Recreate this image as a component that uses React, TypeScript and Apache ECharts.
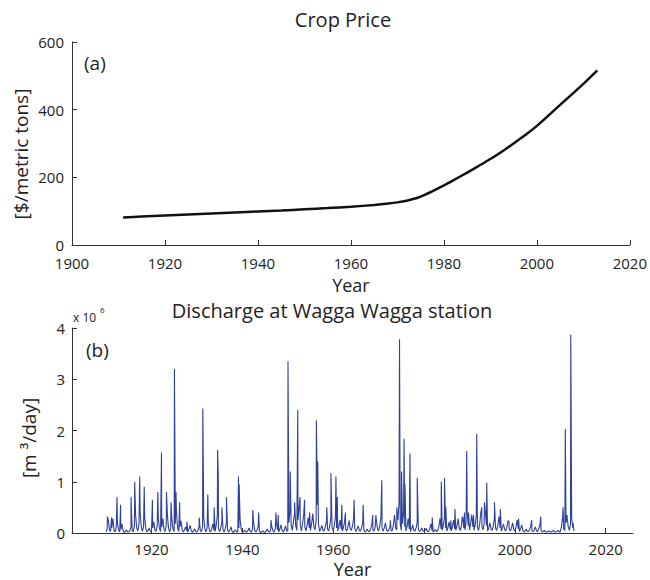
import React, { useEffect, useRef } from "react";
import * as echarts from "echarts";

// ---- Crop price (panel a) ----
const priceYears = [1911, 1915, 1920, 1925, 1930, 1935, 1940, 1945, 1950, 1955, 1960, 1965, 1968, 1970, 1972, 1974, 1976, 1978, 1980, 1982, 1985, 1988, 1990, 1993, 1995, 1998, 2000, 2003, 2005, 2008, 2010, 2013];
const priceValues = [81, 84, 87, 90, 93, 96, 99, 102, 105.5, 109, 113, 118.5, 122.5, 126, 131, 138, 149, 162, 176, 191, 214, 238, 254, 281, 300, 330, 352, 389, 414, 451, 476, 516];

// ---- Discharge (panel b), in 10^6 m3/day ----
// baseline flow, four readings per year starting 1910.0
const baseStartYear = 1910;
const baseStep = 0.25;
const baseFlow = [
  0.02, 0.08, 0.25, 0.06, 0.03, 0.10, 0.28, 0.05, 0.02, 0.12, 0.20, 0.06, 0.02, 0.07, 0.18, 0.04,
  0.01, 0.03, 0.06, 0.02, 0.02, 0.05, 0.12, 0.04, 0.03, 0.15, 0.35, 0.10, 0.04, 0.18, 0.40, 0.12,
  0.03, 0.12, 0.30, 0.08, 0.02, 0.05, 0.10, 0.03, 0.02, 0.10, 0.22, 0.06, 0.03, 0.14, 0.30, 0.08,
  0.03, 0.12, 0.28, 0.07, 0.03, 0.15, 0.35, 0.09, 0.02, 0.10, 0.25, 0.06, 0.03, 0.18, 0.40, 0.10,
  0.03, 0.12, 0.24, 0.06, 0.02, 0.06, 0.12, 0.04, 0.02, 0.08, 0.15, 0.05, 0.01, 0.04, 0.08, 0.03,
  0.02, 0.06, 0.14, 0.04, 0.03, 0.12, 0.30, 0.08, 0.02, 0.10, 0.20, 0.05, 0.02, 0.08, 0.18, 0.05,
  0.03, 0.15, 0.35, 0.09, 0.03, 0.10, 0.22, 0.06, 0.02, 0.09, 0.20, 0.05, 0.02, 0.06, 0.12, 0.03,
  0.01, 0.03, 0.06, 0.02, 0.02, 0.10, 0.28, 0.07, 0.01, 0.03, 0.05, 0.02, 0.02, 0.05, 0.10, 0.03,
  0.02, 0.08, 0.18, 0.05, 0.02, 0.06, 0.14, 0.04, 0.01, 0.02, 0.04, 0.02, 0.01, 0.04, 0.08, 0.03,
  0.02, 0.06, 0.12, 0.04, 0.02, 0.08, 0.20, 0.06, 0.02, 0.07, 0.16, 0.05, 0.02, 0.06, 0.14, 0.04,
  0.04, 0.20, 0.45, 0.15, 0.05, 0.22, 0.40, 0.14, 0.05, 0.25, 0.50, 0.16, 0.04, 0.18, 0.35, 0.12,
  0.04, 0.15, 0.30, 0.10, 0.05, 0.18, 0.38, 0.12, 0.06, 0.25, 0.55, 0.18, 0.03, 0.08, 0.15, 0.05,
  0.04, 0.12, 0.22, 0.08, 0.04, 0.15, 0.30, 0.10, 0.05, 0.15, 0.32, 0.10, 0.04, 0.12, 0.25, 0.08,
  0.04, 0.10, 0.22, 0.07, 0.04, 0.12, 0.24, 0.08, 0.05, 0.14, 0.28, 0.09, 0.03, 0.08, 0.14, 0.05,
  0.04, 0.10, 0.20, 0.06, 0.02, 0.04, 0.08, 0.03, 0.03, 0.08, 0.16, 0.05, 0.04, 0.12, 0.25, 0.08,
  0.04, 0.14, 0.30, 0.09, 0.04, 0.10, 0.20, 0.06, 0.03, 0.06, 0.12, 0.04, 0.05, 0.15, 0.35, 0.10,
  0.06, 0.25, 0.60, 0.18, 0.05, 0.18, 0.40, 0.12, 0.04, 0.12, 0.28, 0.08, 0.03, 0.08, 0.16, 0.05,
  0.04, 0.10, 0.22, 0.07, 0.03, 0.06, 0.10, 0.04, 0.03, 0.05, 0.09, 0.03, 0.03, 0.08, 0.18, 0.05,
  0.02, 0.04, 0.07, 0.03, 0.04, 0.12, 0.28, 0.08, 0.05, 0.15, 0.30, 0.10, 0.04, 0.10, 0.22, 0.07,
  0.04, 0.12, 0.25, 0.08, 0.05, 0.14, 0.28, 0.09, 0.05, 0.16, 0.32, 0.10, 0.06, 0.20, 0.40, 0.14,
  0.06, 0.18, 0.36, 0.12, 0.05, 0.16, 0.33, 0.11, 0.05, 0.18, 0.40, 0.12, 0.06, 0.20, 0.42, 0.14,
  0.04, 0.10, 0.20, 0.07, 0.05, 0.14, 0.30, 0.09, 0.05, 0.15, 0.32, 0.10, 0.04, 0.10, 0.18, 0.06,
  0.04, 0.12, 0.24, 0.08, 0.04, 0.10, 0.20, 0.07, 0.04, 0.12, 0.25, 0.08, 0.03, 0.08, 0.16, 0.05,
  0.02, 0.04, 0.08, 0.03, 0.03, 0.07, 0.14, 0.04, 0.03, 0.06, 0.12, 0.04, 0.03, 0.08, 0.15, 0.05,
  0.02, 0.03, 0.05, 0.02, 0.02, 0.03, 0.04, 0.02, 0.02, 0.03, 0.05, 0.02, 0.02, 0.03, 0.05, 0.02,
  0.03, 0.12, 0.30, 0.08, 0.05, 0.20, 0.35, 0.12, 0.05, 0.18, 0.30, 0.10, 0.04,
];
// flood peaks
const peakYears = [
  1910.3, 1911.2, 1912.4, 1913.2, 1915.5, 1916.3, 1917.4, 1918.4, 1920.2, 1921.4, 1922.2, 1923.3, 1924.3,
  1925.05, 1925.4, 1926.2, 1927.8, 1930.5, 1931.3, 1932.4, 1933.8, 1934.55, 1934.7, 1935.5, 1936.5,
  1939.15, 1939.3, 1942.3, 1943.6, 1946.3, 1947.4, 1947.9, 1950.05, 1950.55, 1951.5, 1952.2, 1952.7,
  1953.7, 1954.8, 1956.3, 1956.6, 1958.6, 1959.5, 1960.6, 1960.9, 1961.9, 1962.7, 1964.6, 1966.6,
  1968.7, 1969.4, 1970.7, 1972.6, 1974.0, 1974.6, 1975.05, 1975.6, 1975.8, 1976.9, 1978.5, 1981.8,
  1983.8, 1984.5, 1984.8, 1985.9, 1986.8, 1988.4, 1988.9, 1989.4, 1989.8, 1990.9, 1991.6, 1992.7,
  1993.3, 1993.8, 1995.5, 1996.8, 1998.7, 2000.8, 2003.7, 2005.7, 2010.6, 2011.1, 2011.5, 2012.3, 2012.8,
];
const peakValues = [
  0.32, 0.3, 0.7, 0.55, 0.7, 1.0, 1.1, 0.9, 0.65, 0.8, 1.57, 0.8, 0.6,
  3.2, 0.8, 0.6, 0.22, 0.3, 2.43, 0.75, 0.5, 1.62, 1.15, 0.5, 0.7,
  1.1, 0.95, 0.45, 0.4, 0.25, 0.4, 0.35, 3.35, 1.2, 0.6, 2.4, 0.7,
  0.65, 0.4, 2.2, 1.4, 0.5, 1.17, 1.1, 0.7, 0.55, 0.4, 0.65, 0.55,
  0.35, 0.35, 1.03, 0.25, 0.5, 3.78, 1.2, 1.84, 0.95, 1.55, 1.08, 0.3,
  1.0, 1.08, 0.5, 0.25, 0.47, 0.3, 0.4, 1.6, 0.4, 0.35, 1.93, 0.5,
  0.6, 0.98, 0.6, 0.47, 0.22, 0.28, 0.25, 0.32, 0.5, 2.03, 0.3, 3.87, 0.2,
];

const bottomYearTicks = [1920, 1940, 1960, 1980, 2000, 2020];

const FONT = "'Open Sans', 'Noto Sans', sans-serif";
const TEXT = "#222";
const AXIS = "#333";

export default function App() {
  const ref = useRef<HTMLDivElement>(null);

  useEffect(() => {
    if (!ref.current) return;
    const chart = echarts.init(ref.current, undefined, { renderer: "svg" });

    const pricePoints = priceYears.map((y, i) => [y, priceValues[i]]);
    const flowPoints: number[][] = baseFlow.map((v, i) => [baseStartYear + i * baseStep, v]);
    peakYears.forEach((y, i) => flowPoints.push([y, peakValues[i]]));
    flowPoints.sort((a, b) => a[0] - b[0]);

    const plain = (v: number) => String(v);

    const axisCommon = {
      axisLine: { show: true, lineStyle: { color: AXIS, width: 1 } },
      axisTick: { show: true, inside: true, length: 5, lineStyle: { color: AXIS } },
      splitLine: { show: false },
      axisLabel: { color: TEXT, fontSize: 15, fontFamily: FONT, formatter: plain },
      nameTextStyle: { color: TEXT, fontSize: 18, fontFamily: FONT, lineHeight: 18 },
    };

    chart.setOption({
      animation: false,
      backgroundColor: "#fff",
      grid: [
        { left: 72, right: 17, top: 42, height: 203 },
        { left: 72, right: 17, top: 328, height: 205 },
      ],
      xAxis: [
        {
          ...axisCommon,
          type: "value",
          gridIndex: 0,
          min: 1900,
          max: 2020,
          interval: 20,
          axisLabel: { ...axisCommon.axisLabel, margin: 10, lineHeight: 15 },
          name: "Year",
          nameLocation: "middle",
          nameGap: 31,
        },
        {
          ...axisCommon,
          type: "value",
          gridIndex: 1,
          min: 1902.5,
          max: 2026,
          axisTick: { ...axisCommon.axisTick, customValues: bottomYearTicks },
          axisLabel: { ...axisCommon.axisLabel, margin: 8, lineHeight: 15, customValues: bottomYearTicks },
          name: "Year",
          nameLocation: "middle",
          nameGap: 27,
        },
      ],
      yAxis: [
        {
          ...axisCommon,
          type: "value",
          gridIndex: 0,
          min: 0,
          max: 600,
          interval: 200,
          axisLabel: { ...axisCommon.axisLabel, margin: 8, lineHeight: 13 },
        },
        {
          ...axisCommon,
          type: "value",
          gridIndex: 1,
          min: 0,
          max: 4,
          interval: 1,
          axisLabel: { ...axisCommon.axisLabel, margin: 7, lineHeight: 13 },
        },
      ],
      graphic: [
        { type: "text", x: 343, y: 9, style: { text: "Crop Price", fontSize: 20, fontFamily: FONT, fill: TEXT, textAlign: "center", textVerticalAlign: "top" } },
        { type: "text", x: 332, y: 300, style: { text: "Discharge at Wagga Wagga station", fontSize: 20, fontFamily: FONT, fill: TEXT, textAlign: "center", textVerticalAlign: "top", lineHeight: 20 } },
        { type: "text", x: 84, y: 63, style: { text: "(a)", fontSize: 19, fontFamily: FONT, fill: TEXT, textAlign: "left", textVerticalAlign: "middle" } },
        { type: "text", x: 86, y: 350, style: { text: "(b)", fontSize: 19, fontFamily: FONT, fill: TEXT, textAlign: "left", textVerticalAlign: "middle" } },
        { type: "text", x: 73, y: 317, style: { text: "x 10", fontSize: 12, fontFamily: FONT, fill: TEXT, textAlign: "left", textVerticalAlign: "middle" } },
        { type: "text", x: 100, y: 309, style: { text: "6", fontSize: 8, fontFamily: FONT, fill: TEXT, textAlign: "left", textVerticalAlign: "middle" } },
        { type: "text", x: 21, y: 154, rotation: Math.PI / 2, style: { text: "[$/metric tons]", fontSize: 19, fontFamily: FONT, fill: TEXT, textAlign: "center", textVerticalAlign: "middle" } },
        { type: "text", x: 29, y: 438, rotation: Math.PI / 2, style: { text: "[m \u00b3/day]", fontSize: 19, fontFamily: FONT, fill: TEXT, textAlign: "center", textVerticalAlign: "middle" } },
      ],
      series: [
        {
          type: "line",
          xAxisIndex: 0,
          yAxisIndex: 0,
          data: pricePoints,
          smooth: 0.25,
          showSymbol: false,
          lineStyle: { color: "#111", width: 2.5 },
        },
        {
          type: "line",
          xAxisIndex: 1,
          yAxisIndex: 1,
          data: flowPoints,
          showSymbol: false,
          lineStyle: { color: "#2f4199", width: 1.1 },
        },
      ],
    });

    return () => chart.dispose();
  }, []);

  return <div ref={ref} style={{ position: "fixed", left: 0, top: 0, width: 650, height: 580, background: "#fff" }} />;
}
